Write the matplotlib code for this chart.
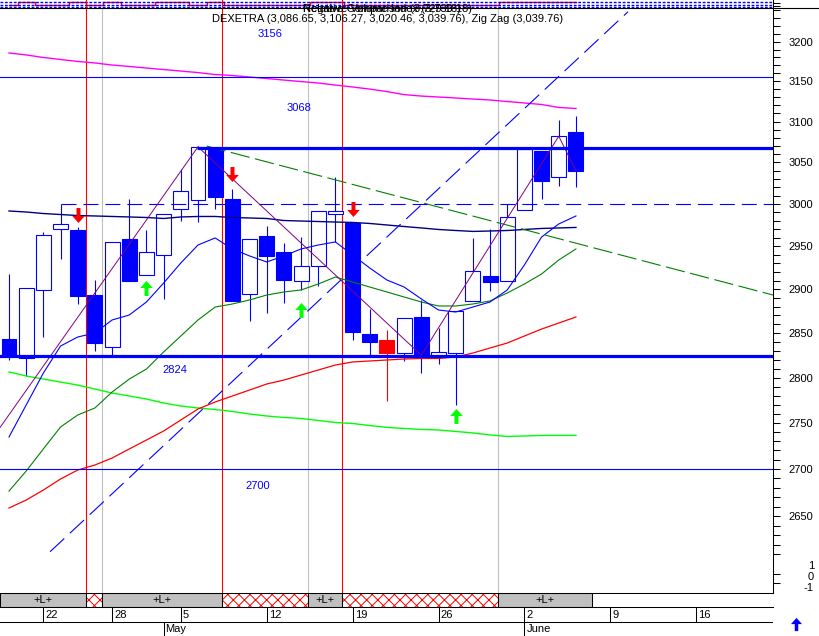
import numpy as np
import matplotlib
matplotlib.use('Agg')
import matplotlib.pyplot as plt
from matplotlib.path import Path
from matplotlib.patches import Rectangle
from matplotlib.lines import Line2D
from matplotlib.ticker import FixedLocator, NullFormatter, FuncFormatter
from matplotlib.transforms import offset_copy

plt.rcParams['font.family'] = ['Liberation Sans', 'DejaVu Sans']
plt.rcParams['lines.scale_dashes'] = False
plt.rcParams['hatch.linewidth'] = 0.7

# daily candles, index 0 = Apr 17 ... index 33 = Jun 5
opens  = [2843, 2822, 2899, 2970, 2969, 2893, 2834, 2959, 2916, 2940, 2994, 3005,
          3065, 3006, 2895, 2962, 2943, 2910, 2927, 2988, 2977, 2849, 2842, 2827,
          2868, 2823, 2827, 2887, 2915, 2910, 2993, 3064, 3032, 3086.65]
highs  = [2918, 2902, 2967, 3000, 2973, 2911, 2955, 3006, 2969, 2988, 3042, 3070,
          3069, 3018, 2959, 2974, 2954, 2961, 2992, 3032, 2979, 2877, 2853, 2867,
          2888, 2856, 2875, 2960, 2970, 3000, 3069, 3064, 3102, 3106.27]
lows   = [2820, 2802, 2846, 2935, 2883, 2830, 2825, 2909, 2916, 2889, 2980, 2979,
          2994, 2886, 2864, 2873, 2884, 2899, 2904, 2955, 2842, 2823, 2774, 2818,
          2805, 2815, 2770, 2887, 2898, 2910, 2993, 3006, 3022, 3020.46]
closes = [2824, 2901, 2963, 2976, 2892, 2839, 2955, 2909, 2943, 2988, 3016, 3069,
          3008, 2887, 2959, 2939, 2911, 2927, 2992, 2992, 2851, 2840, 2827, 2867,
          2825, 2829, 2875, 2921, 2908, 2985, 3066, 3028, 3082, 3039.76]
highlight = [22]

# moving averages
navy_ma = [2991.7, 2990.5, 2988.7, 2987.5, 2986.3, 2985.8, 2985.2, 2984.6, 2984.0, 2982.8,
           2984.6, 2985.2, 2985.2, 2984.0, 2983.4, 2982.8, 2980.4, 2979.8, 2979.2, 2978.6,
           2978.1, 2976.9, 2975.1, 2973.3, 2971.6, 2969.8, 2968.6, 2967.5, 2968.0, 2968.6,
           2969.8, 2971.0, 2971.6, 2972.2]
magenta_ma = [3185.7, 3183.2, 3180.0, 3177.5, 3175.0, 3173.1, 3170.5, 3168.7, 3166.7, 3164.8,
              3162.9, 3161.0, 3158.5, 3157.3, 3155.4, 3153.5, 3151.6, 3149.7, 3147.9, 3145.3,
              3142.9, 3140.3, 3137.2, 3133.4, 3131.6, 3130.4, 3129.2, 3127.9, 3126.7, 3124.8,
              3123.0, 3121.1, 3117.4, 3116.2]
blue_ma = [2734.6, 2769.6, 2805.0, 2835.3, 2845.5, 2850.0, 2864.8, 2870.5, 2885.4, 2907.2,
           2930.5, 2951.5, 2959.8, 2946.9, 2938.7, 2931.7, 2938.7, 2946.9, 2951.5, 2955.1,
           2939.9, 2924.6, 2910.7, 2902.6, 2888.9, 2876.2, 2873.9, 2879.6, 2885.4, 2899.2,
           2928.2, 2960.9, 2976.3, 2985.8]
green_ma = [2676.4, 2697.8, 2721.6, 2745.5, 2758.6, 2766.3, 2783.9, 2798.3, 2809.5, 2828.6,
            2846.6, 2864.8, 2879.6, 2883.1, 2887.7, 2893.4, 2896.9, 2899.2, 2906.1, 2914.2,
            2908.4, 2902.6, 2896.9, 2891.1, 2885.4, 2880.8, 2880.8, 2883.1, 2886.6, 2895.7,
            2906.1, 2917.7, 2934.0, 2946.9]
red_ma = [2658.4, 2666.9, 2677.5, 2689.3, 2698.9, 2704.3, 2711.8, 2721.6, 2731.3, 2741.1,
          2753.1, 2765.2, 2772.9, 2779.5, 2786.1, 2792.8, 2797.2, 2802.8, 2808.4, 2814.0,
          2817.4, 2818.5, 2819.6, 2820.7, 2821.3, 2821.3, 2823.0, 2827.4, 2833.1, 2838.7,
          2846.6, 2854.5, 2861.4, 2868.2]
lime_ma = [2806.2, 2801.7, 2798.3, 2795.0, 2791.6, 2787.2, 2782.8, 2779.5, 2776.2, 2771.8,
           2768.5, 2766.3, 2764.6, 2762.5, 2759.7, 2757.5, 2755.9, 2754.8, 2752.6, 2750.4,
           2749.3, 2747.1, 2745.0, 2743.9, 2742.8, 2742.2, 2740.6, 2739.0, 2736.8, 2735.2,
           2735.7, 2736.3, 2736.3, 2736.3]

# zig zag pivots and trend lines
zz_idx = [-0.52, 11, 24, 32, 33]
zz_val = [2745, 3069, 2825, 3082, 3039.76]
up_trend_idx = [2.39, 36.03]
up_trend_val = [2612.6, 3238.4]
down_trend_idx = [11.5, 44.47]
down_trend_val = [3070, 2893.4]

# horizontal levels
level_thin = [3156, 2700]
level_thick_top = 3068
level_thick_bot = 2824
level_dashed = 3000

# signals
sell_idx = [4, 13, 20]
sell_val = [2987.5, 3035.5, 2993.5]
buy_idx = [8, 17, 26]
buy_val = [2901.5, 2876.2, 2758.0]

# markers along the time axis
red_lines = [4.46, 12.42, 19.40]
gray_lines = [5.43, 17.42, 28.48]
band_edges = [-0.52, 4.46, 5.43, 12.42, 17.42, 19.40, 28.48, 33.95]
band_kind = ['L', 'X', 'L', 'X', 'L', 'X', 'L']

tick_idx = [2, 6, 10, 15, 20, 25, 30, 35, 40]
tick_lbl = ['22', '28', '5', '12', '19', '26', '2', '9', '16']
month_idx = [9, 30]
month_lbl = ['May', 'June']
price_ticks = list(range(2650, 3201, 50))

# squashed indicator strip at the top (1 = upper row, 0 = lower row)
rc_level = [0, 1, 0, 0, 1, 0, 1, 0, 0, 1, 1, 0, 1, 0, 0, 0, 0, 0, 1, 1,
            0, 0, 0, 0, 0, 0, 0, 0, 0, 1, 1, 1, 1, 1]

BLUE = '#0000FF'
RED = '#FF0000'
W, H = 820, 636
XL = (-0.524, 44.47)

fig = plt.figure(figsize=(W / 100, H / 100), dpi=100)
fig.patch.set_facecolor('white')


def px_axes(x0, y0, x1, y1):
    return fig.add_axes([x0 / W, 1 - y1 / H, (x1 - x0) / W, (y1 - y0) / H])


def arrow_path(up):
    s = 1 if up else -1
    v = [(-0.133, -0.5 * s), (0.133, -0.5 * s), (0.133, 0.03 * s), (0.42, 0.03 * s),
         (0, 0.5 * s), (-0.42, 0.03 * s), (-0.133, 0.03 * s), (-0.133, -0.5 * s)]
    codes = [Path.MOVETO] + [Path.LINETO] * 6 + [Path.CLOSEPOLY]
    return Path(v, codes)


# ---------------- main price panel ----------------
ax = px_axes(0, 8, 773, 593)
ax.set_yscale('log')
ax.set_xlim(XL)
ax.set_ylim(2570.1, 3243.2)
for s in ('left', 'top', 'bottom'):
    ax.spines[s].set_visible(False)
ax.spines['right'].set_linewidth(0.75)
ax.set_xticks([])
ax.yaxis.tick_right()
ax.yaxis.set_major_locator(FixedLocator(price_ticks))
ax.yaxis.set_major_formatter(FuncFormatter(lambda v, p: f'{v:.0f}'))
ax.yaxis.set_minor_locator(FixedLocator([v for v in range(2580, 3241, 10) if v % 50]))
ax.yaxis.set_minor_formatter(NullFormatter())
ax.tick_params(axis='y', which='both', direction='out', length=5, width=0.75,
               labelsize=8, pad=6)

idx = np.arange(len(opens))
o = np.array(opens); h = np.array(highs); l = np.array(lows); c = np.array(closes)
edge_cols = [RED if i in highlight else BLUE for i in idx]
body_cols = [RED if i in highlight else (BLUE if c[i] < o[i] else 'white') for i in idx]

for x in red_lines:
    ax.axvline(x, color=RED, lw=0.8, zorder=1)
for x in gray_lines:
    ax.axvline(x, color='#C0C0C0', lw=0.8, zorder=1)

ax.vlines(idx, l, h, colors=edge_cols, lw=0.8, zorder=2)
ax.bar(idx, np.abs(c - o), bottom=np.minimum(o, c), width=0.87, color=body_cols,
       edgecolor=edge_cols, linewidth=0.8, zorder=3)

ax.plot(idx, lime_ma, color='#00FF00', lw=1.0, zorder=4)
ax.plot(idx, red_ma, color=RED, lw=0.9, zorder=4)
ax.plot(idx, green_ma, color='#008000', lw=0.8, zorder=4)
ax.plot(idx, navy_ma, color='#000080', lw=1.0, zorder=4)
ax.plot(idx, magenta_ma, color='#FF00FF', lw=1.0, zorder=4)
ax.plot(idx, blue_ma, color=BLUE, lw=0.8, zorder=4)
ax.plot(zz_idx, zz_val, color='#800080', lw=0.7, zorder=5)
ax.plot(up_trend_idx, up_trend_val, color=BLUE, lw=0.8, dashes=(14, 5.5), zorder=4)
ax.plot(down_trend_idx, down_trend_val, color='#008000', lw=0.8, dashes=(14, 4), zorder=4)

for lv in level_thin:
    ax.axhline(lv, color=BLUE, lw=0.8, zorder=4)
ax.hlines(level_thick_top, 10.93, XL[1], color=BLUE, lw=2.3, zorder=5)
ax.axhline(level_thick_bot, color=BLUE, lw=2.3, zorder=5)
ax.hlines(level_dashed, 3, XL[1], color=BLUE, lw=0.8, linestyles=[(0, (10.8, 5))], zorder=4)

ax.text(15.19, 3209.8, '3156', color=BLUE, fontsize=8, ha='center', va='center')
ax.text(16.88, 3116.8, '3068', color=BLUE, fontsize=8, ha='center', va='center')
ax.text(9.66, 2808.4, '2824', color=BLUE, fontsize=8, ha='center', va='center')
ax.text(14.49, 2681.8, '2700', color=BLUE, fontsize=8, ha='center', va='center')

ax.plot(sell_idx, sell_val, ls='none', marker=arrow_path(False), ms=10.8,
        mfc=RED, mec='none', zorder=6)
ax.plot(buy_idx, buy_val, ls='none', marker=arrow_path(True), ms=10.8,
        mfc='#00FF00', mec='none', zorder=6)

# ---------------- small -1..1 panel labels ----------------
axi = px_axes(0, 555, 773, 593)
axi.set_xlim(XL)
axi.set_ylim(-1.545, 1.909)
axi.patch.set_visible(False)
for s in axi.spines.values():
    s.set_visible(False)
axi.set_xticks([])
axi.yaxis.tick_right()
axi.set_yticks([1, 0, -1])
axi.set_yticklabels(['1', '0', '-1'])
axi.tick_params(axis='y', length=0, labelsize=8, pad=29.5)
for lab in axi.get_yticklabels():
    lab.set_horizontalalignment('right')

# ---------------- squashed strip on top ----------------
axt = px_axes(0, 0, 773, 8)
axt.set_xlim(XL)
axt.set_ylim(-1.4, 1.8)
axt.set_xticks([])
for s in ('left', 'top', 'bottom'):
    axt.spines[s].set_visible(False)
axt.spines['right'].set_linewidth(0.75)
axt.yaxis.tick_right()
axt.set_yticks([0.8, -0.4])
axt.set_yticklabels([])
axt.tick_params(axis='y', length=5, width=0.75, direction='out')
axt.plot(idx, rc_level, color=RED, lw=1.0, drawstyle='steps-mid', zorder=2)
for yy in (1.2, 0.0, -0.8):
    axt.axhline(yy, color=BLUE, lw=1.0, dashes=(2, 1.2), zorder=3)
for x in red_lines:
    axt.axvline(x, color=RED, lw=0.8, zorder=4)

fig.add_artist(Line2D([0, 1], [1 - 8 / H] * 2, transform=fig.transFigure,
                      color='black', lw=0.8))

# ---------------- band ----------------
axb = px_axes(0, 593, 773, 607)
axb.set_xlim(XL)
axb.set_ylim(0, 1)
axb.set_xticks([])
axb.set_yticks([])
for s in ('left', 'right'):
    axb.spines[s].set_visible(False)
for s in ('top', 'bottom'):
    axb.spines[s].set_linewidth(0.75)
for a, b, k in zip(band_edges[:-1], band_edges[1:], band_kind):
    if k == 'L':
        axb.add_patch(Rectangle((a, 0), b - a, 1, facecolor='#C0C0C0',
                                edgecolor='black', lw=0.75))
        axb.text((a + b) / 2, 0.5, '+L+', ha='center', va='center', fontsize=8)
    else:
        axb.add_patch(Rectangle((a, 0), b - a, 1, facecolor='white',
                                edgecolor=RED, hatch='xxx', lw=0))
        axb.add_patch(Rectangle((a, 0), b - a, 1, fill=False,
                                edgecolor='black', lw=0.75))

# ---------------- date rows ----------------
axd = px_axes(0, 607, 773, 636)
axd.set_xlim(XL)
axd.set_ylim(29, 0)
axd.axis('off')
axd.axhline(15, color='black', lw=0.75)
axd.vlines(tick_idx, 0, 15, color='black', lw=0.75)
axd.vlines(month_idx, 15, 29, color='black', lw=0.75)
shift = offset_copy(axd.transData, fig=fig, x=2, y=0, units='dots')
for i, t in zip(tick_idx, tick_lbl):
    axd.text(i, 7.5, t, transform=shift, ha='left', va='center', fontsize=8)
for i, t in zip(month_idx, month_lbl):
    axd.text(i, 22, t, transform=shift, ha='left', va='center', fontsize=8)

# ---------------- header texts ----------------
fig.text(212 / W, 1 - 21.5 / H,
         'DEXETRA (3,086.65, 3,106.27, 3,020.46, 3,039.76), Zig Zag (3,039.76)',
         fontsize=8, va='baseline', ha='left')
fig.text(303 / W, 1 - 12.5 / H, 'Relative Comparison (3,729.18)',
         fontsize=8, va='baseline', ha='left')
fig.text(303 / W, 1 - 12.5 / H, 'Negative Volume Index (3,739.18)',
         fontsize=8, va='baseline', ha='left')

fig.add_artist(Line2D([796 / W], [1 - 623.5 / H], transform=fig.transFigure,
                      marker=arrow_path(True), ms=9.5, mfc=BLUE, mec='none', ls='none'))

plt.savefig('out.png', dpi=100)
